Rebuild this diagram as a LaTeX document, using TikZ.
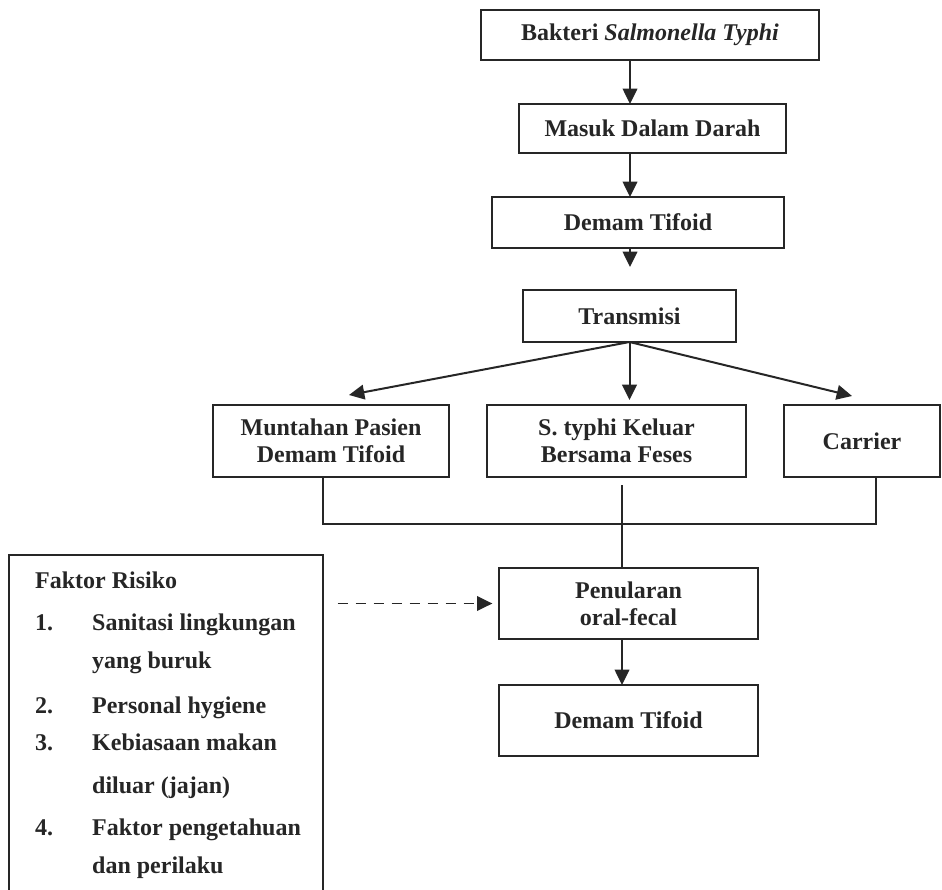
\documentclass[tikz,border=0pt]{standalone}
\usepackage{fontspec}
\setmainfont{Liberation Serif}
\usepackage{tikz}
\usetikzlibrary{arrows.meta}
\usetikzlibrary{calc}

\tikzset{
	txt/.style={font=\fontsize{18}{20.25}\selectfont\bfseries, text=black!85},
	box/.style={txt, draw, inner sep=0pt, outer sep=0pt, align=center},
	tip/.style={-{Triangle[length=11.5pt,width=11pt]}},
}

\begin{document}
\begin{tikzpicture}[x=0.75pt, y=-0.75pt, line width=1.1pt, draw=black!85]
		\clip (0,0) rectangle (942,889);
		\coordinate (axis) at (630,0);
		\coordinate (jn) at (622,524);
		% top chain
		\node[box, minimum width=253.5pt, minimum height=37.5pt] (bakteri) at (650,35) {Bakteri \textit{Salmonella Typhi}};
		\node[box, minimum width=200.25pt, minimum height=36.75pt] (darah) at (652.5,128.5) {Masuk Dalam Darah};
		\node[box, minimum width=219pt, minimum height=38.25pt] (demam) at (638,222.5) {Demam Tifoid};
		\coordinate (demamtip) at (630,267);
		\node[box, minimum width=159.75pt, minimum height=39pt] (transmisi) at (629.5,316) {Transmisi};
		% sources
		\node[box, minimum width=177pt, minimum height=54pt] (muntah) at (331,441) {Muntahan Pasien\\Demam Tifoid};
		\node[box, minimum width=194.25pt, minimum height=54pt] (feses) at (616.5,441) {S. typhi Keluar\\Bersama Feses};
		\node[box, minimum width=117pt, minimum height=54pt] (carrier) at (862,441) {Carrier};
		% bottom
		\node[box, minimum width=194.25pt, minimum height=53.25pt] (oral) at (628.5,603.5) {Penularan\\oral-fecal};
		\node[box, minimum width=194.25pt, minimum height=53.25pt] (tifoid) at (628.5,720.5) {Demam Tifoid};
		\node[draw, inner sep=0pt, minimum width=235.5pt, minimum height=270pt] (faktor) at (166,735) {};
		\node[txt, anchor=base west] (risiko) at (30,588) {Faktor Risiko};
		\foreach \y/\n/\t [count=\i] in {630/1./{Sanitasi lingkungan}, 668//{yang buruk}, 713/2./{Personal hygiene},
			750/3./{Kebiasaan makan}, 793//{diluar (jajan)}, 835/4./{Faktor pengetahuan}, 873//{dan perilaku}}
		{
			\node[txt, anchor=base west] (no\i) at (30,\y) {\n};
			\node[txt, anchor=base west] (item\i) at (87,\y) {\t};
		}

		\path[tip]
		(bakteri.south -| axis) edge (darah.north -| axis)
		(darah.south -| axis) edge (demam.north -| axis)
		(demam.south -| axis) edge (demamtip)
		(oral.south -| jn) edge (tifoid.north -| jn);
		\path[tip, line width=1.5pt]
		(transmisi.south) edge ([xshift=13.5pt,yshift=7.5pt]muntah.north)
		(transmisi.south) edge ([yshift=3.75pt]transmisi.south |- feses.north)
		(transmisi.south) edge ([xshift=-7.5pt,yshift=6.75pt]carrier.north);
		\draw ([xshift=-6pt]muntah.south) |- (jn) -| ([xshift=10.5pt]carrier.south);
		\draw ([yshift=-6pt]feses.south -| jn) -- (oral.north -| jn);
		%\draw[dashed] (faktor.east) -- (oral.west);
		\draw[tip, dash pattern=on 7.5pt off 6pt] ([xshift=10.5pt]faktor.east |- oral) -- ([xshift=-5pt]oral.west);
		\end{tikzpicture}
\end{document}
